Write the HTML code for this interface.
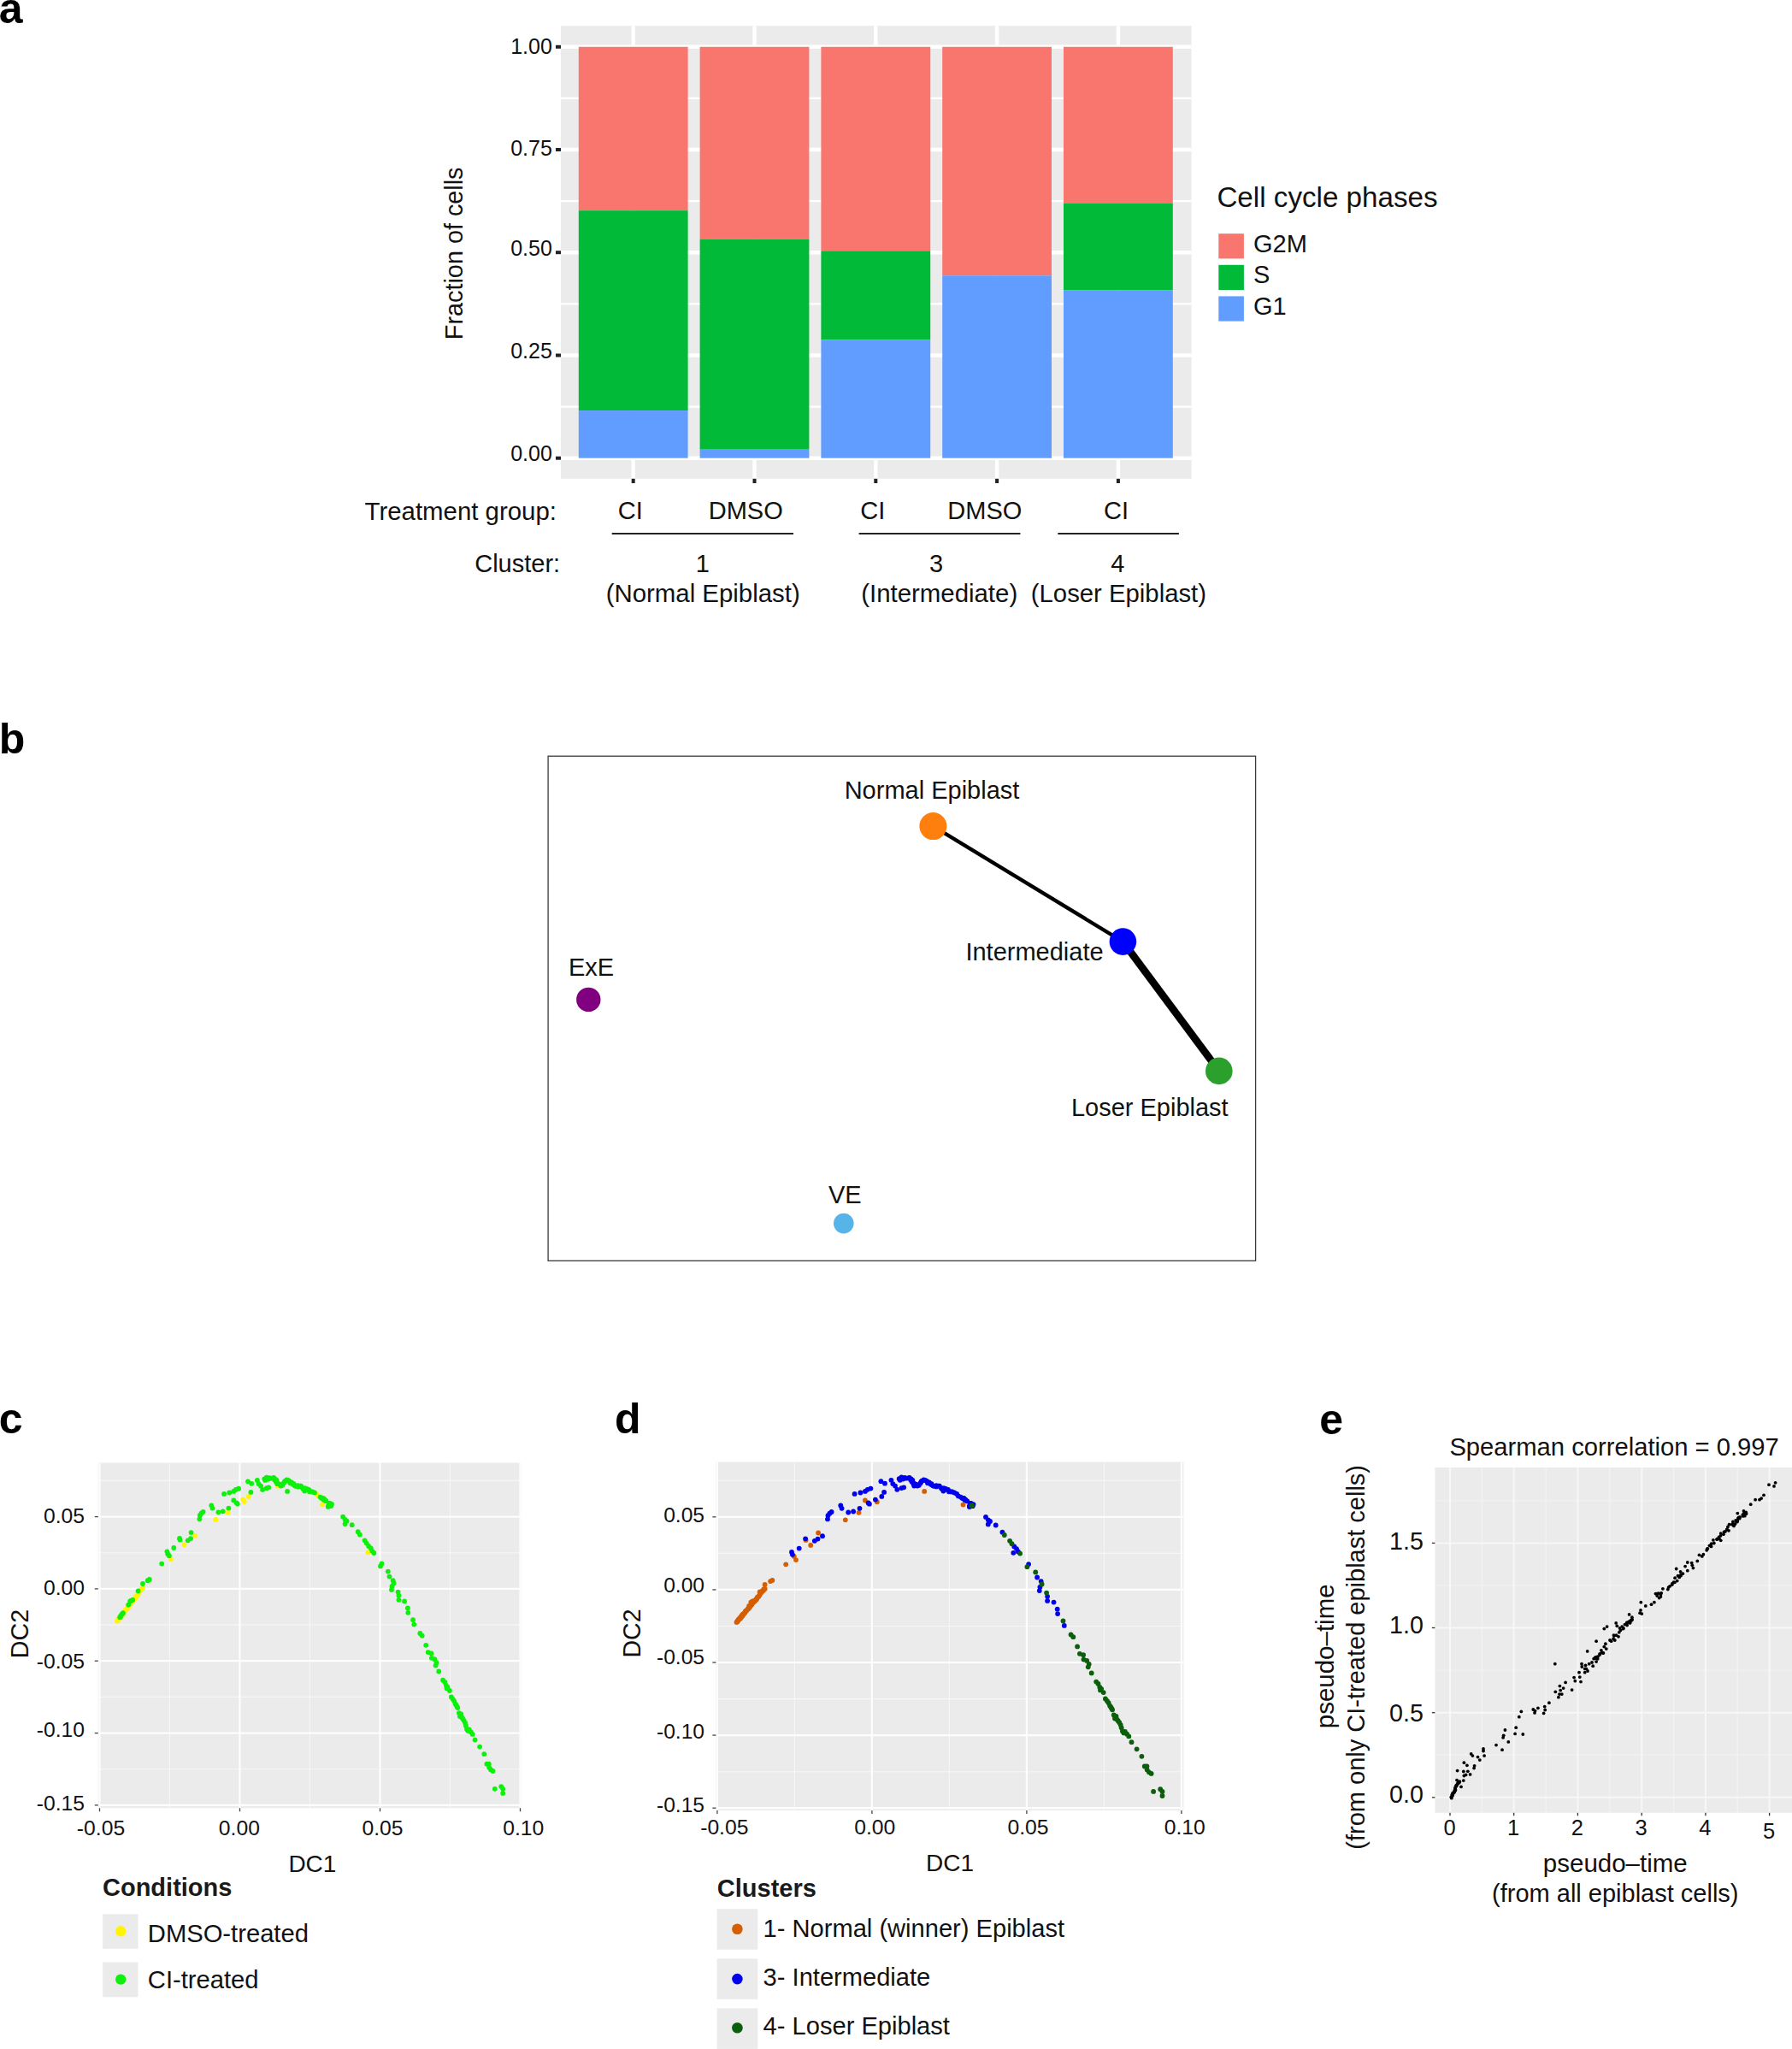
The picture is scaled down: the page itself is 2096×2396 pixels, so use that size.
<!DOCTYPE html>
<html lang="en">
<head>
<meta charset="utf-8">
<title>Figure</title>
<style>
html,body{margin:0;padding:0;background:#fff;}
body{width:2096px;height:2396px;overflow:hidden;}
svg{display:block;font-family:"Liberation Sans", sans-serif;}
</style>
</head>
<body>
<svg width="2096" height="2396" viewBox="0 0 2096 2396">
<rect width="2096" height="2396" fill="#fff"/>
<text x="-1.3" y="26.8" font-size="50" text-anchor="start" font-weight="bold" fill="#000">a</text>
<text x="-1.2" y="880.8" font-size="50" text-anchor="start" font-weight="bold" fill="#000">b</text>
<text x="-1.3" y="1676.4" font-size="50" text-anchor="start" font-weight="bold" fill="#000">c</text>
<text x="719.0" y="1675.8" font-size="50" text-anchor="start" font-weight="bold" fill="#000">d</text>
<text x="1543.2" y="1676.8" font-size="50" text-anchor="start" font-weight="bold" fill="#000">e</text>
<rect x="656.0" y="30.2" width="737.6" height="529.6" fill="#EBEBEB"/>
<line x1="656.0" y1="475.6" x2="1393.6" y2="475.6" stroke="#fff" stroke-width="2.2"/>
<line x1="656.0" y1="355.4" x2="1393.6" y2="355.4" stroke="#fff" stroke-width="2.2"/>
<line x1="656.0" y1="235.1" x2="1393.6" y2="235.1" stroke="#fff" stroke-width="2.2"/>
<line x1="656.0" y1="114.9" x2="1393.6" y2="114.9" stroke="#fff" stroke-width="2.2"/>
<line x1="656.0" y1="535.7" x2="1393.6" y2="535.7" stroke="#fff" stroke-width="4.4"/>
<line x1="656.0" y1="415.5" x2="1393.6" y2="415.5" stroke="#fff" stroke-width="4.4"/>
<line x1="656.0" y1="295.2" x2="1393.6" y2="295.2" stroke="#fff" stroke-width="4.4"/>
<line x1="656.0" y1="175.0" x2="1393.6" y2="175.0" stroke="#fff" stroke-width="4.4"/>
<line x1="656.0" y1="54.8" x2="1393.6" y2="54.8" stroke="#fff" stroke-width="4.4"/>
<line x1="740.7" y1="30.2" x2="740.7" y2="559.8" stroke="#fff" stroke-width="4.4"/>
<line x1="882.5" y1="30.2" x2="882.5" y2="559.8" stroke="#fff" stroke-width="4.4"/>
<line x1="1024.3" y1="30.2" x2="1024.3" y2="559.8" stroke="#fff" stroke-width="4.4"/>
<line x1="1166.1" y1="30.2" x2="1166.1" y2="559.8" stroke="#fff" stroke-width="4.4"/>
<line x1="1307.9" y1="30.2" x2="1307.9" y2="559.8" stroke="#fff" stroke-width="4.4"/>
<rect x="676.8" y="54.8" width="127.8" height="191.4" fill="#F8766D"/>
<rect x="676.8" y="246.2" width="127.8" height="233.9" fill="#00BA38"/>
<rect x="676.8" y="480.1" width="127.8" height="55.6" fill="#619CFF"/>
<rect x="818.6" y="54.8" width="127.8" height="225.1" fill="#F8766D"/>
<rect x="818.6" y="279.9" width="127.8" height="245.2" fill="#00BA38"/>
<rect x="818.6" y="525.0" width="127.8" height="10.7" fill="#619CFF"/>
<rect x="960.4" y="54.8" width="127.8" height="238.5" fill="#F8766D"/>
<rect x="960.4" y="293.3" width="127.8" height="104.1" fill="#00BA38"/>
<rect x="960.4" y="397.4" width="127.8" height="138.3" fill="#619CFF"/>
<rect x="1102.2" y="54.8" width="127.8" height="267.5" fill="#F8766D"/>
<rect x="1102.2" y="322.3" width="127.8" height="213.4" fill="#619CFF"/>
<rect x="1244.0" y="54.8" width="127.8" height="183.2" fill="#F8766D"/>
<rect x="1244.0" y="238.0" width="127.8" height="101.5" fill="#00BA38"/>
<rect x="1244.0" y="339.5" width="127.8" height="196.2" fill="#619CFF"/>
<rect x="650.0" y="533.7" width="6.0" height="4.0" fill="#222"/>
<text x="645.8" y="539.4" font-size="25" text-anchor="end" fill="#111">0.00</text>
<rect x="650.0" y="413.5" width="6.0" height="4.0" fill="#222"/>
<text x="645.8" y="419.2" font-size="25" text-anchor="end" fill="#111">0.25</text>
<rect x="650.0" y="293.2" width="6.0" height="4.0" fill="#222"/>
<text x="645.8" y="298.9" font-size="25" text-anchor="end" fill="#111">0.50</text>
<rect x="650.0" y="173.0" width="6.0" height="4.0" fill="#222"/>
<text x="645.8" y="181.9" font-size="25" text-anchor="end" fill="#111">0.75</text>
<rect x="650.0" y="52.8" width="6.0" height="4.0" fill="#222"/>
<text x="645.8" y="62.6" font-size="25" text-anchor="end" fill="#111">1.00</text>
<rect x="738.7" y="559.8" width="4.0" height="5.2" fill="#222"/>
<rect x="880.5" y="559.8" width="4.0" height="5.2" fill="#222"/>
<rect x="1022.3" y="559.8" width="4.0" height="5.2" fill="#222"/>
<rect x="1164.1" y="559.8" width="4.0" height="5.2" fill="#222"/>
<rect x="1305.9" y="559.8" width="4.0" height="5.2" fill="#222"/>
<text x="540.8" y="296.3" font-size="28.8" text-anchor="middle" fill="#111" transform="rotate(-90 540.8 296.3)">Fraction of cells</text>
<text x="426.6" y="607.5" font-size="29.4" text-anchor="start" fill="#111">Treatment group:</text>
<text x="737.2" y="607.3" font-size="29" text-anchor="middle" fill="#111">CI</text>
<text x="872.2" y="607.3" font-size="29" text-anchor="middle" fill="#111">DMSO</text>
<text x="1020.8" y="607.3" font-size="29" text-anchor="middle" fill="#111">CI</text>
<text x="1151.8" y="607.3" font-size="29" text-anchor="middle" fill="#111">DMSO</text>
<text x="1305.6" y="607.3" font-size="29" text-anchor="middle" fill="#111">CI</text>
<line x1="715.7" y1="624.0" x2="928.0" y2="624.0" stroke="#222" stroke-width="2.2"/>
<line x1="1004.6" y1="624.0" x2="1193.4" y2="624.0" stroke="#222" stroke-width="2.2"/>
<line x1="1237.3" y1="624.0" x2="1378.9" y2="624.0" stroke="#222" stroke-width="2.2"/>
<text x="555.2" y="668.6" font-size="29" text-anchor="start" fill="#111">Cluster:</text>
<text x="821.8" y="668.6" font-size="29" text-anchor="middle" fill="#111">1</text>
<text x="1095.0" y="668.6" font-size="29" text-anchor="middle" fill="#111">3</text>
<text x="1307.3" y="668.6" font-size="29" text-anchor="middle" fill="#111">4</text>
<text x="822.2" y="704.0" font-size="29.4" text-anchor="middle" fill="#111">(Normal Epiblast)</text>
<text x="1098.7" y="704.0" font-size="29.4" text-anchor="middle" fill="#111">(Intermediate)</text>
<text x="1308.4" y="704.0" font-size="29.3" text-anchor="middle" fill="#111">(Loser Epiblast)</text>
<text x="1423.4" y="242.4" font-size="33.2" text-anchor="start" fill="#111">Cell cycle phases</text>
<rect x="1425.3" y="273.2" width="29.6" height="29.2" fill="#F8766D"/>
<text x="1466.0" y="294.8" font-size="29" text-anchor="start" fill="#111">G2M</text>
<rect x="1425.3" y="309.8" width="29.6" height="29.2" fill="#00BA38"/>
<text x="1466.0" y="331.4" font-size="29" text-anchor="start" fill="#111">S</text>
<rect x="1425.3" y="346.4" width="29.6" height="29.2" fill="#619CFF"/>
<text x="1466.0" y="368.0" font-size="29" text-anchor="start" fill="#111">G1</text>
<rect x="641.1" y="884.2" width="827.5" height="590.1" fill="#fff" stroke="#3a3a3a" stroke-width="1.3"/>
<line x1="1091.4" y1="966.1" x2="1313.4" y2="1101.1" stroke="#000" stroke-width="4.4"/>
<line x1="1313.4" y1="1101.1" x2="1425.8" y2="1252.4" stroke="#000" stroke-width="8.6"/>
<circle cx="1091.4" cy="966.1" r="16.0" fill="#FF7F0E"/>
<circle cx="1313.4" cy="1101.1" r="15.8" fill="#0000FF"/>
<circle cx="1425.8" cy="1252.4" r="15.8" fill="#2CA02C"/>
<circle cx="688.3" cy="1168.9" r="14.2" fill="#800080"/>
<circle cx="986.8" cy="1430.6" r="11.8" fill="#56B4E9"/>
<text x="1090.0" y="933.7" font-size="29" text-anchor="middle" fill="#111">Normal Epiblast</text>
<text x="1210.0" y="1122.7" font-size="29" text-anchor="middle" fill="#111">Intermediate</text>
<text x="691.5" y="1141.4" font-size="29" text-anchor="middle" fill="#111">ExE</text>
<text x="1344.8" y="1304.9" font-size="29" text-anchor="middle" fill="#111">Loser Epiblast</text>
<text x="988.3" y="1406.6" font-size="29" text-anchor="middle" fill="#111">VE</text>
<rect x="114.8" y="1710.5" width="494.6" height="403.8" fill="#EBEBEB"/>
<line x1="198.5" y1="1710.5" x2="198.5" y2="2114.3" stroke="#F6F6F6" stroke-width="1.1"/>
<line x1="362.5" y1="1710.5" x2="362.5" y2="2114.3" stroke="#F6F6F6" stroke-width="1.1"/>
<line x1="526.5" y1="1710.5" x2="526.5" y2="2114.3" stroke="#F6F6F6" stroke-width="1.1"/>
<line x1="114.8" y1="2068.8" x2="609.4" y2="2068.8" stroke="#F6F6F6" stroke-width="1.1"/>
<line x1="114.8" y1="1984.4" x2="609.4" y2="1984.4" stroke="#F6F6F6" stroke-width="1.1"/>
<line x1="114.8" y1="1900.1" x2="609.4" y2="1900.1" stroke="#F6F6F6" stroke-width="1.1"/>
<line x1="114.8" y1="1815.7" x2="609.4" y2="1815.7" stroke="#F6F6F6" stroke-width="1.1"/>
<line x1="114.8" y1="1731.4" x2="609.4" y2="1731.4" stroke="#F6F6F6" stroke-width="1.1"/>
<line x1="116.5" y1="1710.5" x2="116.5" y2="2114.3" stroke="#FDFDFD" stroke-width="2.2"/>
<line x1="280.5" y1="1710.5" x2="280.5" y2="2114.3" stroke="#FDFDFD" stroke-width="2.2"/>
<line x1="444.5" y1="1710.5" x2="444.5" y2="2114.3" stroke="#FDFDFD" stroke-width="2.2"/>
<line x1="608.5" y1="1710.5" x2="608.5" y2="2114.3" stroke="#FDFDFD" stroke-width="2.2"/>
<line x1="114.8" y1="2110.9" x2="609.4" y2="2110.9" stroke="#FDFDFD" stroke-width="2.2"/>
<line x1="114.8" y1="2026.6" x2="609.4" y2="2026.6" stroke="#FDFDFD" stroke-width="2.2"/>
<line x1="114.8" y1="1942.2" x2="609.4" y2="1942.2" stroke="#FDFDFD" stroke-width="2.2"/>
<line x1="114.8" y1="1857.9" x2="609.4" y2="1857.9" stroke="#FDFDFD" stroke-width="2.2"/>
<line x1="114.8" y1="1773.6" x2="609.4" y2="1773.6" stroke="#FDFDFD" stroke-width="2.2"/>
<g fill="#FFF500">
<circle cx="199.9" cy="1823.4" r="2.9"/>
<circle cx="215.5" cy="1806.3" r="2.9"/>
<circle cx="228.1" cy="1795.8" r="2.9"/>
<circle cx="252.4" cy="1777.0" r="2.9"/>
<circle cx="266.6" cy="1768.6" r="2.9"/>
<circle cx="284.2" cy="1753.6" r="2.9"/>
<circle cx="285.8" cy="1756.1" r="2.9"/>
<circle cx="290.9" cy="1749.9" r="2.9"/>
<circle cx="325.2" cy="1737.7" r="2.9"/>
<circle cx="370.4" cy="1746.9" r="2.9"/>
<circle cx="372.1" cy="1749.4" r="2.9"/>
<circle cx="377.1" cy="1759.4" r="2.9"/>
<circle cx="430.4" cy="1815.2" r="2.9"/>
<circle cx="137.0" cy="1895.5" r="2.9"/>
<circle cx="137.7" cy="1895.0" r="2.9"/>
<circle cx="138.0" cy="1894.7" r="2.9"/>
<circle cx="138.0" cy="1894.1" r="2.9"/>
<circle cx="138.5" cy="1893.4" r="2.9"/>
<circle cx="139.1" cy="1892.3" r="2.9"/>
<circle cx="140.0" cy="1892.3" r="2.9"/>
<circle cx="140.3" cy="1891.0" r="2.9"/>
<circle cx="141.4" cy="1890.9" r="2.9"/>
<circle cx="141.9" cy="1889.6" r="2.9"/>
<circle cx="142.9" cy="1888.4" r="2.9"/>
<circle cx="143.4" cy="1887.9" r="2.9"/>
<circle cx="143.3" cy="1886.9" r="2.9"/>
<circle cx="144.1" cy="1886.8" r="2.9"/>
<circle cx="144.6" cy="1885.7" r="2.9"/>
<circle cx="145.7" cy="1884.6" r="2.9"/>
<circle cx="146.3" cy="1883.5" r="2.9"/>
<circle cx="146.5" cy="1882.7" r="2.9"/>
<circle cx="147.7" cy="1882.1" r="2.9"/>
<circle cx="148.0" cy="1881.4" r="2.9"/>
<circle cx="148.8" cy="1880.2" r="2.9"/>
<circle cx="149.9" cy="1879.7" r="2.9"/>
<circle cx="150.0" cy="1878.7" r="2.9"/>
<circle cx="151.0" cy="1878.1" r="2.9"/>
<circle cx="151.9" cy="1876.6" r="2.9"/>
<circle cx="152.8" cy="1875.5" r="2.9"/>
<circle cx="152.9" cy="1875.2" r="2.9"/>
<circle cx="153.4" cy="1874.0" r="2.9"/>
<circle cx="154.0" cy="1873.3" r="2.9"/>
<circle cx="155.4" cy="1872.2" r="2.9"/>
<circle cx="156.2" cy="1871.0" r="2.9"/>
<circle cx="156.8" cy="1870.3" r="2.9"/>
<circle cx="157.4" cy="1869.3" r="2.9"/>
<circle cx="158.4" cy="1868.8" r="2.9"/>
<circle cx="158.7" cy="1867.5" r="2.9"/>
<circle cx="159.0" cy="1866.6" r="2.9"/>
<circle cx="160.4" cy="1865.9" r="2.9"/>
<circle cx="161.3" cy="1864.3" r="2.9"/>
<circle cx="161.6" cy="1863.7" r="2.9"/>
<circle cx="162.0" cy="1862.5" r="2.9"/>
<circle cx="162.9" cy="1861.1" r="2.9"/>
<circle cx="163.5" cy="1860.8" r="2.9"/>
<circle cx="164.3" cy="1859.3" r="2.9"/>
<circle cx="165.3" cy="1858.9" r="2.9"/>
<circle cx="165.8" cy="1857.5" r="2.9"/>
<circle cx="167.0" cy="1856.9" r="2.9"/>
</g>
<g fill="#0CF00C">
<circle cx="167.0" cy="1852.0" r="2.9"/>
<circle cx="172.8" cy="1848.2" r="2.9"/>
<circle cx="174.8" cy="1847.0" r="2.9"/>
<circle cx="189.2" cy="1828.6" r="2.9"/>
<circle cx="195.4" cy="1814.3" r="2.9"/>
<circle cx="196.3" cy="1817.2" r="2.9"/>
<circle cx="197.9" cy="1819.2" r="2.9"/>
<circle cx="203.3" cy="1810.0" r="2.9"/>
<circle cx="210.0" cy="1798.8" r="2.9"/>
<circle cx="210.5" cy="1800.5" r="2.9"/>
<circle cx="219.7" cy="1801.3" r="2.9"/>
<circle cx="223.1" cy="1799.1" r="2.9"/>
<circle cx="223.6" cy="1792.1" r="2.9"/>
<circle cx="233.4" cy="1776.2" r="2.9"/>
<circle cx="233.9" cy="1772.0" r="2.9"/>
<circle cx="235.6" cy="1769.5" r="2.9"/>
<circle cx="237.6" cy="1767.8" r="2.9"/>
<circle cx="247.3" cy="1760.3" r="2.9"/>
<circle cx="248.5" cy="1763.6" r="2.9"/>
<circle cx="255.4" cy="1768.3" r="2.9"/>
<circle cx="260.7" cy="1767.3" r="2.9"/>
<circle cx="267.4" cy="1763.6" r="2.9"/>
<circle cx="262.1" cy="1746.9" r="2.9"/>
<circle cx="268.3" cy="1745.5" r="2.9"/>
<circle cx="273.3" cy="1743.9" r="2.9"/>
<circle cx="275.8" cy="1741.9" r="2.9"/>
<circle cx="279.1" cy="1740.7" r="2.9"/>
<circle cx="273.3" cy="1754.4" r="2.9"/>
<circle cx="276.6" cy="1757.3" r="2.9"/>
<circle cx="277.8" cy="1758.6" r="2.9"/>
<circle cx="293.4" cy="1744.9" r="2.9"/>
<circle cx="290.0" cy="1732.3" r="2.9"/>
<circle cx="294.2" cy="1734.8" r="2.9"/>
<circle cx="300.9" cy="1731.0" r="2.9"/>
<circle cx="302.6" cy="1735.2" r="2.9"/>
<circle cx="305.1" cy="1737.7" r="2.9"/>
<circle cx="307.1" cy="1741.9" r="2.9"/>
<circle cx="311.8" cy="1740.2" r="2.9"/>
<circle cx="314.3" cy="1739.3" r="2.9"/>
<circle cx="309.3" cy="1729.3" r="2.9"/>
<circle cx="311.8" cy="1727.6" r="2.9"/>
<circle cx="315.1" cy="1728.1" r="2.9"/>
<circle cx="319.3" cy="1728.5" r="2.9"/>
<circle cx="321.3" cy="1730.5" r="2.9"/>
<circle cx="322.7" cy="1732.6" r="2.9"/>
<circle cx="324.3" cy="1735.2" r="2.9"/>
<circle cx="327.7" cy="1736.0" r="2.9"/>
<circle cx="330.2" cy="1736.8" r="2.9"/>
<circle cx="332.7" cy="1732.6" r="2.9"/>
<circle cx="336.1" cy="1731.0" r="2.9"/>
<circle cx="338.6" cy="1732.1" r="2.9"/>
<circle cx="336.1" cy="1743.9" r="2.9"/>
<circle cx="341.1" cy="1733.5" r="2.9"/>
<circle cx="343.6" cy="1735.2" r="2.9"/>
<circle cx="346.1" cy="1737.7" r="2.9"/>
<circle cx="348.6" cy="1737.2" r="2.9"/>
<circle cx="351.1" cy="1737.7" r="2.9"/>
<circle cx="353.6" cy="1739.8" r="2.9"/>
<circle cx="356.2" cy="1743.5" r="2.9"/>
<circle cx="358.7" cy="1741.0" r="2.9"/>
<circle cx="361.2" cy="1741.9" r="2.9"/>
<circle cx="364.5" cy="1744.4" r="2.9"/>
<circle cx="367.9" cy="1745.5" r="2.9"/>
<circle cx="374.6" cy="1750.6" r="2.9"/>
<circle cx="376.2" cy="1751.9" r="2.9"/>
<circle cx="378.8" cy="1753.9" r="2.9"/>
<circle cx="381.3" cy="1755.2" r="2.9"/>
<circle cx="384.6" cy="1757.8" r="2.9"/>
<circle cx="386.3" cy="1760.3" r="2.9"/>
<circle cx="383.8" cy="1761.1" r="2.9"/>
<circle cx="388.0" cy="1758.9" r="2.9"/>
<circle cx="401.1" cy="1773.7" r="2.9"/>
<circle cx="403.6" cy="1777.0" r="2.9"/>
<circle cx="405.6" cy="1778.7" r="2.9"/>
<circle cx="403.6" cy="1782.0" r="2.9"/>
<circle cx="411.7" cy="1783.2" r="2.9"/>
<circle cx="418.7" cy="1791.2" r="2.9"/>
<circle cx="420.9" cy="1794.6" r="2.9"/>
<circle cx="426.6" cy="1801.3" r="2.9"/>
<circle cx="428.7" cy="1804.6" r="2.9"/>
<circle cx="431.2" cy="1808.0" r="2.9"/>
<circle cx="433.8" cy="1810.5" r="2.9"/>
<circle cx="435.4" cy="1813.8" r="2.9"/>
<circle cx="437.4" cy="1816.0" r="2.9"/>
<circle cx="446.5" cy="1828.4" r="2.9"/>
<circle cx="445.0" cy="1831.4" r="2.9"/>
<circle cx="453.8" cy="1837.6" r="2.9"/>
<circle cx="455.5" cy="1843.6" r="2.9"/>
<circle cx="459.7" cy="1848.2" r="2.9"/>
<circle cx="460.5" cy="1851.5" r="2.9"/>
<circle cx="458.5" cy="1854.9" r="2.9"/>
<circle cx="458.0" cy="1859.0" r="2.9"/>
<circle cx="465.6" cy="1861.6" r="2.9"/>
<circle cx="466.4" cy="1865.7" r="2.9"/>
<circle cx="466.4" cy="1870.8" r="2.9"/>
<circle cx="473.1" cy="1872.4" r="2.9"/>
<circle cx="476.9" cy="1880.5" r="2.9"/>
<circle cx="477.3" cy="1885.8" r="2.9"/>
<circle cx="483.1" cy="1894.2" r="2.9"/>
<circle cx="484.3" cy="1899.6" r="2.9"/>
<circle cx="491.3" cy="1910.0" r="2.9"/>
<circle cx="493.7" cy="1912.7" r="2.9"/>
<circle cx="498.2" cy="1923.8" r="2.9"/>
<circle cx="500.7" cy="1932.1" r="2.9"/>
<circle cx="504.5" cy="1933.5" r="2.9"/>
<circle cx="504.9" cy="1938.8" r="2.9"/>
<circle cx="508.2" cy="1940.2" r="2.9"/>
<circle cx="510.5" cy="1944.2" r="2.9"/>
<circle cx="509.6" cy="1947.5" r="2.9"/>
<circle cx="513.2" cy="1954.5" r="2.9"/>
<circle cx="518.1" cy="1964.7" r="2.9"/>
<circle cx="520.3" cy="1967.0" r="2.9"/>
<circle cx="521.9" cy="1971.0" r="2.9"/>
<circle cx="522.5" cy="1974.3" r="2.9"/>
<circle cx="525.9" cy="1977.0" r="2.9"/>
<circle cx="527.9" cy="1984.4" r="2.9"/>
<circle cx="531.2" cy="1989.1" r="2.9"/>
<circle cx="532.6" cy="1992.4" r="2.9"/>
<circle cx="534.6" cy="1995.8" r="2.9"/>
<circle cx="535.3" cy="1997.1" r="2.9"/>
<circle cx="539.3" cy="2004.5" r="2.9"/>
<circle cx="537.9" cy="2007.1" r="2.9"/>
<circle cx="541.3" cy="2009.8" r="2.9"/>
<circle cx="542.6" cy="2011.8" r="2.9"/>
<circle cx="544.0" cy="2014.5" r="2.9"/>
<circle cx="546.0" cy="2021.9" r="2.9"/>
<circle cx="548.7" cy="2022.5" r="2.9"/>
<circle cx="550.7" cy="2025.2" r="2.9"/>
<circle cx="552.7" cy="2027.9" r="2.9"/>
<circle cx="555.6" cy="2034.6" r="2.9"/>
<circle cx="561.1" cy="2042.6" r="2.9"/>
<circle cx="566.3" cy="2051.1" r="2.9"/>
<circle cx="569.4" cy="2062.7" r="2.9"/>
<circle cx="571.8" cy="2062.7" r="2.9"/>
<circle cx="572.1" cy="2066.7" r="2.9"/>
<circle cx="574.1" cy="2069.4" r="2.9"/>
<circle cx="576.5" cy="2071.0" r="2.9"/>
<circle cx="578.8" cy="2091.8" r="2.9"/>
<circle cx="586.2" cy="2089.1" r="2.9"/>
<circle cx="588.2" cy="2091.8" r="2.9"/>
<circle cx="588.2" cy="2096.9" r="2.9"/>
<circle cx="523.5" cy="1973.0" r="2.9"/>
<circle cx="529.6" cy="1986.8" r="2.9"/>
<circle cx="533.7" cy="1994.0" r="2.9"/>
<circle cx="536.9" cy="2003.1" r="2.9"/>
<circle cx="540.2" cy="2008.2" r="2.9"/>
<circle cx="544.9" cy="2017.9" r="2.9"/>
<circle cx="547.3" cy="2023.9" r="2.9"/>
<circle cx="310.2" cy="1730.9" r="2.9"/>
<circle cx="313.5" cy="1729.7" r="2.9"/>
<circle cx="316.9" cy="1728.8" r="2.9"/>
<circle cx="320.2" cy="1728.0" r="2.9"/>
<circle cx="323.6" cy="1730.9" r="2.9"/>
<circle cx="324.4" cy="1734.3" r="2.9"/>
<circle cx="328.6" cy="1737.6" r="2.9"/>
<circle cx="331.9" cy="1734.3" r="2.9"/>
<circle cx="333.6" cy="1731.8" r="2.9"/>
<circle cx="337.0" cy="1730.9" r="2.9"/>
<circle cx="339.5" cy="1734.3" r="2.9"/>
<circle cx="342.0" cy="1735.1" r="2.9"/>
<circle cx="345.3" cy="1737.6" r="2.9"/>
<circle cx="348.7" cy="1738.5" r="2.9"/>
<circle cx="352.0" cy="1737.6" r="2.9"/>
<circle cx="354.5" cy="1741.0" r="2.9"/>
<circle cx="358.7" cy="1741.8" r="2.9"/>
<circle cx="362.1" cy="1744.3" r="2.9"/>
<circle cx="365.4" cy="1744.3" r="2.9"/>
<circle cx="378.0" cy="1751.9" r="2.9"/>
<circle cx="381.3" cy="1755.2" r="2.9"/>
<circle cx="385.5" cy="1757.7" r="2.9"/>
<circle cx="387.2" cy="1761.1" r="2.9"/>
<circle cx="383.8" cy="1761.9" r="2.9"/>
<circle cx="321.9" cy="1729.7" r="2.9"/>
<circle cx="326.5" cy="1735.5" r="2.9"/>
<circle cx="335.3" cy="1730.5" r="2.9"/>
<circle cx="343.7" cy="1736.4" r="2.9"/>
<circle cx="356.6" cy="1740.1" r="2.9"/>
<circle cx="379.7" cy="1753.5" r="2.9"/>
<circle cx="141.0" cy="1890.0" r="2.9"/>
<circle cx="142.7" cy="1887.5" r="2.9"/>
<circle cx="143.9" cy="1886.2" r="2.9"/>
<circle cx="141.9" cy="1888.8" r="2.9"/>
<circle cx="150.2" cy="1876.6" r="2.9"/>
<circle cx="153.6" cy="1871.6" r="2.9"/>
<circle cx="155.2" cy="1870.8" r="2.9"/>
<circle cx="152.2" cy="1872.4" r="2.9"/>
<circle cx="161.6" cy="1860.4" r="2.9"/>
<circle cx="140.2" cy="1891.2" r="2.9"/>
</g>
<line x1="110.8" y1="1773.6" x2="114.8" y2="1773.6" stroke="#444" stroke-width="1.3"/>
<text x="99.0" y="1781.0" font-size="24.7" text-anchor="end" fill="#111">0.05</text>
<line x1="110.8" y1="1857.9" x2="114.8" y2="1857.9" stroke="#444" stroke-width="1.3"/>
<text x="99.0" y="1864.9" font-size="24.7" text-anchor="end" fill="#111">0.00</text>
<line x1="110.8" y1="1942.2" x2="114.8" y2="1942.2" stroke="#444" stroke-width="1.3"/>
<text x="99.0" y="1950.7" font-size="24.7" text-anchor="end" fill="#111">-0.05</text>
<line x1="110.8" y1="2026.6" x2="114.8" y2="2026.6" stroke="#444" stroke-width="1.3"/>
<text x="99.0" y="2031.4" font-size="24.7" text-anchor="end" fill="#111">-0.10</text>
<line x1="110.8" y1="2110.9" x2="114.8" y2="2110.9" stroke="#444" stroke-width="1.3"/>
<text x="99.0" y="2117.1" font-size="24.7" text-anchor="end" fill="#111">-0.15</text>
<line x1="116.5" y1="2114.3" x2="116.5" y2="2118.3" stroke="#444" stroke-width="1.3"/>
<text x="118.0" y="2145.6" font-size="24.7" text-anchor="middle" fill="#111">-0.05</text>
<line x1="280.5" y1="2114.3" x2="280.5" y2="2118.3" stroke="#444" stroke-width="1.3"/>
<text x="279.9" y="2145.6" font-size="24.7" text-anchor="middle" fill="#111">0.00</text>
<line x1="444.5" y1="2114.3" x2="444.5" y2="2118.3" stroke="#444" stroke-width="1.3"/>
<text x="447.5" y="2145.6" font-size="24.7" text-anchor="middle" fill="#111">0.05</text>
<line x1="608.5" y1="2114.3" x2="608.5" y2="2118.3" stroke="#444" stroke-width="1.3"/>
<text x="612.3" y="2145.6" font-size="24.7" text-anchor="middle" fill="#111">0.10</text>
<text x="365.4" y="2188.8" font-size="28" text-anchor="middle" fill="#111">DC1</text>
<text x="32.7" y="1910.5" font-size="28.7" text-anchor="middle" fill="#111" transform="rotate(-90 32.7 1910.5)">DC2</text>
<text x="120.0" y="2217.2" font-size="29" text-anchor="start" font-weight="bold" fill="#1a1a1a">Conditions</text>
<rect x="120.1" y="2238.3" width="41.4" height="40.5" fill="#EBEBEB"/>
<rect x="120.1" y="2294.5" width="41.4" height="40.8" fill="#EBEBEB"/>
<circle cx="141.2" cy="2258.3" r="6.2" fill="#FFF500"/>
<circle cx="141.2" cy="2314.6" r="6.2" fill="#0CF00C"/>
<text x="172.8" y="2271.0" font-size="29.2" text-anchor="start" fill="#111">DMSO-treated</text>
<text x="172.8" y="2325.0" font-size="29.2" text-anchor="start" fill="#111">CI-treated</text>
<rect x="837.4" y="1709.5" width="547.0" height="407.5" fill="#EBEBEB"/>
<line x1="929.4" y1="1709.5" x2="929.4" y2="2117.0" stroke="#F6F6F6" stroke-width="1.1"/>
<line x1="1110.4" y1="1709.5" x2="1110.4" y2="2117.0" stroke="#F6F6F6" stroke-width="1.1"/>
<line x1="1291.4" y1="1709.5" x2="1291.4" y2="2117.0" stroke="#F6F6F6" stroke-width="1.1"/>
<line x1="837.4" y1="2071.7" x2="1384.4" y2="2071.7" stroke="#F6F6F6" stroke-width="1.1"/>
<line x1="837.4" y1="1986.6" x2="1384.4" y2="1986.6" stroke="#F6F6F6" stroke-width="1.1"/>
<line x1="837.4" y1="1901.5" x2="1384.4" y2="1901.5" stroke="#F6F6F6" stroke-width="1.1"/>
<line x1="837.4" y1="1816.4" x2="1384.4" y2="1816.4" stroke="#F6F6F6" stroke-width="1.1"/>
<line x1="837.4" y1="1731.2" x2="1384.4" y2="1731.2" stroke="#F6F6F6" stroke-width="1.1"/>
<line x1="838.9" y1="1709.5" x2="838.9" y2="2117.0" stroke="#FDFDFD" stroke-width="2.2"/>
<line x1="1019.9" y1="1709.5" x2="1019.9" y2="2117.0" stroke="#FDFDFD" stroke-width="2.2"/>
<line x1="1200.9" y1="1709.5" x2="1200.9" y2="2117.0" stroke="#FDFDFD" stroke-width="2.2"/>
<line x1="1381.9" y1="1709.5" x2="1381.9" y2="2117.0" stroke="#FDFDFD" stroke-width="2.2"/>
<line x1="837.4" y1="2114.2" x2="1384.4" y2="2114.2" stroke="#FDFDFD" stroke-width="2.2"/>
<line x1="837.4" y1="2029.1" x2="1384.4" y2="2029.1" stroke="#FDFDFD" stroke-width="2.2"/>
<line x1="837.4" y1="1944.0" x2="1384.4" y2="1944.0" stroke="#FDFDFD" stroke-width="2.2"/>
<line x1="837.4" y1="1858.9" x2="1384.4" y2="1858.9" stroke="#FDFDFD" stroke-width="2.2"/>
<line x1="837.4" y1="1773.8" x2="1384.4" y2="1773.8" stroke="#FDFDFD" stroke-width="2.2"/>
<g fill="#D55E00">
<circle cx="894.6" cy="1853.0" r="2.9"/>
<circle cx="901.1" cy="1849.1" r="2.9"/>
<circle cx="903.3" cy="1847.9" r="2.9"/>
<circle cx="919.2" cy="1829.3" r="2.9"/>
<circle cx="928.8" cy="1819.9" r="2.9"/>
<circle cx="931.0" cy="1824.1" r="2.9"/>
<circle cx="942.6" cy="1800.9" r="2.9"/>
<circle cx="948.2" cy="1806.9" r="2.9"/>
<circle cx="957.1" cy="1792.5" r="2.9"/>
<circle cx="988.8" cy="1777.3" r="2.9"/>
<circle cx="1004.5" cy="1768.8" r="2.9"/>
<circle cx="1011.9" cy="1754.5" r="2.9"/>
<circle cx="1025.8" cy="1756.2" r="2.9"/>
<circle cx="1081.2" cy="1743.9" r="2.9"/>
<circle cx="1126.5" cy="1759.6" r="2.9"/>
<circle cx="861.5" cy="1896.9" r="2.9"/>
<circle cx="862.3" cy="1896.3" r="2.9"/>
<circle cx="862.7" cy="1896.0" r="2.9"/>
<circle cx="862.7" cy="1895.5" r="2.9"/>
<circle cx="863.2" cy="1894.7" r="2.9"/>
<circle cx="863.9" cy="1893.6" r="2.9"/>
<circle cx="864.9" cy="1893.6" r="2.9"/>
<circle cx="865.2" cy="1892.3" r="2.9"/>
<circle cx="866.4" cy="1892.2" r="2.9"/>
<circle cx="867.0" cy="1890.9" r="2.9"/>
<circle cx="868.1" cy="1889.7" r="2.9"/>
<circle cx="868.6" cy="1889.2" r="2.9"/>
<circle cx="868.5" cy="1888.2" r="2.9"/>
<circle cx="869.4" cy="1888.0" r="2.9"/>
<circle cx="869.9" cy="1886.9" r="2.9"/>
<circle cx="871.2" cy="1885.9" r="2.9"/>
<circle cx="871.8" cy="1884.7" r="2.9"/>
<circle cx="872.0" cy="1884.0" r="2.9"/>
<circle cx="873.4" cy="1883.3" r="2.9"/>
<circle cx="873.7" cy="1882.6" r="2.9"/>
<circle cx="874.6" cy="1881.4" r="2.9"/>
<circle cx="875.7" cy="1880.9" r="2.9"/>
<circle cx="875.9" cy="1879.9" r="2.9"/>
<circle cx="876.9" cy="1879.3" r="2.9"/>
<circle cx="877.9" cy="1877.7" r="2.9"/>
<circle cx="879.0" cy="1876.6" r="2.9"/>
<circle cx="879.1" cy="1876.4" r="2.9"/>
<circle cx="879.6" cy="1875.1" r="2.9"/>
<circle cx="880.3" cy="1874.4" r="2.9"/>
<circle cx="881.8" cy="1873.3" r="2.9"/>
<circle cx="882.8" cy="1872.1" r="2.9"/>
<circle cx="883.4" cy="1871.5" r="2.9"/>
<circle cx="884.0" cy="1870.4" r="2.9"/>
<circle cx="885.1" cy="1869.9" r="2.9"/>
<circle cx="885.5" cy="1868.6" r="2.9"/>
<circle cx="885.9" cy="1867.7" r="2.9"/>
<circle cx="887.3" cy="1867.0" r="2.9"/>
<circle cx="888.3" cy="1865.3" r="2.9"/>
<circle cx="888.7" cy="1864.7" r="2.9"/>
<circle cx="889.1" cy="1863.5" r="2.9"/>
<circle cx="890.1" cy="1862.2" r="2.9"/>
<circle cx="890.8" cy="1861.8" r="2.9"/>
<circle cx="891.7" cy="1860.3" r="2.9"/>
<circle cx="892.8" cy="1859.9" r="2.9"/>
<circle cx="893.3" cy="1858.5" r="2.9"/>
<circle cx="894.7" cy="1857.9" r="2.9"/>
<circle cx="866.0" cy="1891.3" r="2.9"/>
<circle cx="867.8" cy="1888.8" r="2.9"/>
<circle cx="869.1" cy="1887.4" r="2.9"/>
<circle cx="866.9" cy="1890.1" r="2.9"/>
<circle cx="876.1" cy="1877.8" r="2.9"/>
<circle cx="879.8" cy="1872.7" r="2.9"/>
<circle cx="881.7" cy="1871.9" r="2.9"/>
<circle cx="878.3" cy="1873.6" r="2.9"/>
<circle cx="888.7" cy="1861.4" r="2.9"/>
<circle cx="865.0" cy="1892.5" r="2.9"/>
</g>
<g fill="#0000EE">
<circle cx="926.0" cy="1815.0" r="2.9"/>
<circle cx="926.9" cy="1817.8" r="2.9"/>
<circle cx="934.7" cy="1810.6" r="2.9"/>
<circle cx="942.1" cy="1799.3" r="2.9"/>
<circle cx="952.8" cy="1801.8" r="2.9"/>
<circle cx="956.5" cy="1799.6" r="2.9"/>
<circle cx="962.0" cy="1796.2" r="2.9"/>
<circle cx="968.0" cy="1776.4" r="2.9"/>
<circle cx="968.5" cy="1772.2" r="2.9"/>
<circle cx="970.4" cy="1769.7" r="2.9"/>
<circle cx="972.6" cy="1768.0" r="2.9"/>
<circle cx="983.3" cy="1760.4" r="2.9"/>
<circle cx="984.6" cy="1763.8" r="2.9"/>
<circle cx="992.2" cy="1768.5" r="2.9"/>
<circle cx="998.1" cy="1767.5" r="2.9"/>
<circle cx="1005.5" cy="1763.8" r="2.9"/>
<circle cx="999.6" cy="1746.9" r="2.9"/>
<circle cx="1006.4" cy="1745.5" r="2.9"/>
<circle cx="1011.9" cy="1743.9" r="2.9"/>
<circle cx="1014.7" cy="1741.8" r="2.9"/>
<circle cx="1018.4" cy="1740.6" r="2.9"/>
<circle cx="1015.6" cy="1757.4" r="2.9"/>
<circle cx="1016.9" cy="1758.7" r="2.9"/>
<circle cx="1023.9" cy="1753.6" r="2.9"/>
<circle cx="1031.3" cy="1749.9" r="2.9"/>
<circle cx="1034.1" cy="1744.9" r="2.9"/>
<circle cx="1030.4" cy="1732.2" r="2.9"/>
<circle cx="1035.0" cy="1734.7" r="2.9"/>
<circle cx="1042.4" cy="1730.8" r="2.9"/>
<circle cx="1044.3" cy="1735.1" r="2.9"/>
<circle cx="1047.0" cy="1737.6" r="2.9"/>
<circle cx="1049.3" cy="1741.8" r="2.9"/>
<circle cx="1054.4" cy="1740.1" r="2.9"/>
<circle cx="1057.2" cy="1739.3" r="2.9"/>
<circle cx="1051.7" cy="1729.2" r="2.9"/>
<circle cx="1054.4" cy="1727.5" r="2.9"/>
<circle cx="1058.1" cy="1728.0" r="2.9"/>
<circle cx="1062.7" cy="1728.3" r="2.9"/>
<circle cx="1065.0" cy="1730.3" r="2.9"/>
<circle cx="1066.4" cy="1732.5" r="2.9"/>
<circle cx="1068.3" cy="1735.1" r="2.9"/>
<circle cx="1069.2" cy="1737.6" r="2.9"/>
<circle cx="1072.0" cy="1735.9" r="2.9"/>
<circle cx="1074.8" cy="1736.8" r="2.9"/>
<circle cx="1077.5" cy="1732.5" r="2.9"/>
<circle cx="1081.2" cy="1730.8" r="2.9"/>
<circle cx="1084.0" cy="1732.0" r="2.9"/>
<circle cx="1086.8" cy="1733.4" r="2.9"/>
<circle cx="1089.5" cy="1735.1" r="2.9"/>
<circle cx="1092.3" cy="1737.6" r="2.9"/>
<circle cx="1095.1" cy="1737.1" r="2.9"/>
<circle cx="1097.9" cy="1737.6" r="2.9"/>
<circle cx="1100.6" cy="1739.8" r="2.9"/>
<circle cx="1103.4" cy="1743.5" r="2.9"/>
<circle cx="1106.2" cy="1741.0" r="2.9"/>
<circle cx="1108.9" cy="1741.8" r="2.9"/>
<circle cx="1112.6" cy="1744.4" r="2.9"/>
<circle cx="1116.3" cy="1745.5" r="2.9"/>
<circle cx="1119.1" cy="1746.9" r="2.9"/>
<circle cx="1120.9" cy="1749.4" r="2.9"/>
<circle cx="1123.7" cy="1750.6" r="2.9"/>
<circle cx="1125.6" cy="1752.0" r="2.9"/>
<circle cx="1128.3" cy="1754.0" r="2.9"/>
<circle cx="1131.1" cy="1755.3" r="2.9"/>
<circle cx="1134.8" cy="1757.9" r="2.9"/>
<circle cx="1133.9" cy="1761.2" r="2.9"/>
<circle cx="1138.5" cy="1759.1" r="2.9"/>
<circle cx="1153.0" cy="1773.9" r="2.9"/>
<circle cx="1155.8" cy="1777.3" r="2.9"/>
<circle cx="1158.0" cy="1779.0" r="2.9"/>
<circle cx="1155.8" cy="1782.4" r="2.9"/>
<circle cx="1164.7" cy="1783.5" r="2.9"/>
<circle cx="1172.4" cy="1791.7" r="2.9"/>
<circle cx="1186.3" cy="1808.5" r="2.9"/>
<circle cx="1189.0" cy="1811.1" r="2.9"/>
<circle cx="1190.9" cy="1814.5" r="2.9"/>
<circle cx="1185.3" cy="1815.8" r="2.9"/>
<circle cx="1203.1" cy="1829.1" r="2.9"/>
<circle cx="1213.1" cy="1844.5" r="2.9"/>
<circle cx="1217.7" cy="1849.1" r="2.9"/>
<circle cx="1216.4" cy="1855.8" r="2.9"/>
<circle cx="1215.8" cy="1860.1" r="2.9"/>
<circle cx="1225.1" cy="1866.8" r="2.9"/>
<circle cx="1225.1" cy="1871.9" r="2.9"/>
<circle cx="1232.5" cy="1873.6" r="2.9"/>
<circle cx="1236.7" cy="1881.7" r="2.9"/>
<circle cx="1237.1" cy="1887.1" r="2.9"/>
<circle cx="1244.8" cy="1900.9" r="2.9"/>
<circle cx="1052.7" cy="1730.8" r="2.9"/>
<circle cx="1056.3" cy="1729.5" r="2.9"/>
<circle cx="1060.0" cy="1728.7" r="2.9"/>
<circle cx="1063.7" cy="1727.8" r="2.9"/>
<circle cx="1067.4" cy="1730.8" r="2.9"/>
<circle cx="1068.4" cy="1734.2" r="2.9"/>
<circle cx="1073.0" cy="1737.6" r="2.9"/>
<circle cx="1076.7" cy="1734.2" r="2.9"/>
<circle cx="1078.5" cy="1731.6" r="2.9"/>
<circle cx="1082.2" cy="1730.8" r="2.9"/>
<circle cx="1085.0" cy="1734.2" r="2.9"/>
<circle cx="1087.8" cy="1735.0" r="2.9"/>
<circle cx="1091.5" cy="1737.6" r="2.9"/>
<circle cx="1095.1" cy="1738.4" r="2.9"/>
<circle cx="1098.8" cy="1737.6" r="2.9"/>
<circle cx="1101.6" cy="1740.9" r="2.9"/>
<circle cx="1106.2" cy="1741.8" r="2.9"/>
<circle cx="1109.9" cy="1744.3" r="2.9"/>
<circle cx="1113.6" cy="1744.3" r="2.9"/>
<circle cx="1127.5" cy="1751.9" r="2.9"/>
<circle cx="1131.2" cy="1755.3" r="2.9"/>
<circle cx="1135.8" cy="1757.8" r="2.9"/>
<circle cx="1137.6" cy="1761.2" r="2.9"/>
<circle cx="1133.9" cy="1762.0" r="2.9"/>
<circle cx="1065.6" cy="1729.5" r="2.9"/>
<circle cx="1070.7" cy="1735.4" r="2.9"/>
<circle cx="1080.4" cy="1730.4" r="2.9"/>
<circle cx="1089.6" cy="1736.3" r="2.9"/>
<circle cx="1103.9" cy="1740.1" r="2.9"/>
<circle cx="1129.3" cy="1753.6" r="2.9"/>
</g>
<g fill="#0B5E0B">
<circle cx="1136.7" cy="1760.4" r="2.9"/>
<circle cx="1174.8" cy="1795.0" r="2.9"/>
<circle cx="1181.1" cy="1801.8" r="2.9"/>
<circle cx="1183.5" cy="1805.2" r="2.9"/>
<circle cx="1193.1" cy="1816.6" r="2.9"/>
<circle cx="1201.4" cy="1832.2" r="2.9"/>
<circle cx="1211.2" cy="1838.4" r="2.9"/>
<circle cx="1218.6" cy="1852.5" r="2.9"/>
<circle cx="1224.1" cy="1862.6" r="2.9"/>
<circle cx="1243.5" cy="1895.5" r="2.9"/>
<circle cx="1252.6" cy="1911.5" r="2.9"/>
<circle cx="1255.3" cy="1914.2" r="2.9"/>
<circle cx="1260.1" cy="1925.4" r="2.9"/>
<circle cx="1262.9" cy="1933.8" r="2.9"/>
<circle cx="1267.1" cy="1935.2" r="2.9"/>
<circle cx="1267.5" cy="1940.6" r="2.9"/>
<circle cx="1271.2" cy="1941.9" r="2.9"/>
<circle cx="1273.7" cy="1946.0" r="2.9"/>
<circle cx="1272.7" cy="1949.3" r="2.9"/>
<circle cx="1276.7" cy="1956.4" r="2.9"/>
<circle cx="1282.2" cy="1966.6" r="2.9"/>
<circle cx="1284.5" cy="1968.9" r="2.9"/>
<circle cx="1286.3" cy="1973.0" r="2.9"/>
<circle cx="1287.0" cy="1976.4" r="2.9"/>
<circle cx="1290.7" cy="1979.1" r="2.9"/>
<circle cx="1292.9" cy="1986.5" r="2.9"/>
<circle cx="1296.6" cy="1991.2" r="2.9"/>
<circle cx="1298.1" cy="1994.6" r="2.9"/>
<circle cx="1300.3" cy="1998.0" r="2.9"/>
<circle cx="1301.1" cy="1999.3" r="2.9"/>
<circle cx="1305.5" cy="2006.8" r="2.9"/>
<circle cx="1304.0" cy="2009.5" r="2.9"/>
<circle cx="1307.7" cy="2012.2" r="2.9"/>
<circle cx="1309.2" cy="2014.2" r="2.9"/>
<circle cx="1310.7" cy="2016.9" r="2.9"/>
<circle cx="1312.9" cy="2024.3" r="2.9"/>
<circle cx="1315.9" cy="2025.0" r="2.9"/>
<circle cx="1318.1" cy="2027.7" r="2.9"/>
<circle cx="1320.3" cy="2030.4" r="2.9"/>
<circle cx="1323.5" cy="2037.2" r="2.9"/>
<circle cx="1329.6" cy="2045.3" r="2.9"/>
<circle cx="1335.4" cy="2053.8" r="2.9"/>
<circle cx="1338.8" cy="2065.5" r="2.9"/>
<circle cx="1341.4" cy="2065.5" r="2.9"/>
<circle cx="1341.7" cy="2069.6" r="2.9"/>
<circle cx="1343.9" cy="2072.3" r="2.9"/>
<circle cx="1346.6" cy="2073.9" r="2.9"/>
<circle cx="1349.1" cy="2094.9" r="2.9"/>
<circle cx="1357.2" cy="2092.2" r="2.9"/>
<circle cx="1359.5" cy="2094.9" r="2.9"/>
<circle cx="1359.5" cy="2100.0" r="2.9"/>
<circle cx="1288.1" cy="1975.0" r="2.9"/>
<circle cx="1294.9" cy="1988.9" r="2.9"/>
<circle cx="1299.3" cy="1996.2" r="2.9"/>
<circle cx="1302.8" cy="2005.4" r="2.9"/>
<circle cx="1306.5" cy="2010.6" r="2.9"/>
<circle cx="1311.7" cy="2020.3" r="2.9"/>
<circle cx="1314.4" cy="2026.4" r="2.9"/>
</g>
<line x1="833.4" y1="1773.8" x2="837.4" y2="1773.8" stroke="#444" stroke-width="1.3"/>
<text x="824.0" y="1780.4" font-size="24.6" text-anchor="end" fill="#111">0.05</text>
<line x1="833.4" y1="1858.9" x2="837.4" y2="1858.9" stroke="#444" stroke-width="1.3"/>
<text x="824.0" y="1862.2" font-size="24.6" text-anchor="end" fill="#111">0.00</text>
<line x1="833.4" y1="1944.0" x2="837.4" y2="1944.0" stroke="#444" stroke-width="1.3"/>
<text x="824.0" y="1946.3" font-size="24.6" text-anchor="end" fill="#111">-0.05</text>
<line x1="833.4" y1="2029.1" x2="837.4" y2="2029.1" stroke="#444" stroke-width="1.3"/>
<text x="824.0" y="2033.1" font-size="24.6" text-anchor="end" fill="#111">-0.10</text>
<line x1="833.4" y1="2114.2" x2="837.4" y2="2114.2" stroke="#444" stroke-width="1.3"/>
<text x="824.0" y="2119.4" font-size="24.6" text-anchor="end" fill="#111">-0.15</text>
<line x1="838.9" y1="2117.0" x2="838.9" y2="2121.0" stroke="#444" stroke-width="1.3"/>
<text x="847.3" y="2145.4" font-size="24.7" text-anchor="middle" fill="#111">-0.05</text>
<line x1="1019.9" y1="2117.0" x2="1019.9" y2="2121.0" stroke="#444" stroke-width="1.3"/>
<text x="1023.2" y="2145.4" font-size="24.7" text-anchor="middle" fill="#111">0.00</text>
<line x1="1200.9" y1="2117.0" x2="1200.9" y2="2121.0" stroke="#444" stroke-width="1.3"/>
<text x="1202.5" y="2145.4" font-size="24.7" text-anchor="middle" fill="#111">0.05</text>
<line x1="1381.9" y1="2117.0" x2="1381.9" y2="2121.0" stroke="#444" stroke-width="1.3"/>
<text x="1385.7" y="2145.4" font-size="24.7" text-anchor="middle" fill="#111">0.10</text>
<text x="1111.0" y="2188.0" font-size="28" text-anchor="middle" fill="#111">DC1</text>
<text x="749.4" y="1910.0" font-size="28.6" text-anchor="middle" fill="#111" transform="rotate(-90 749.4 1910.0)">DC2</text>
<text x="838.8" y="2217.6" font-size="29" text-anchor="start" font-weight="bold" fill="#1a1a1a">Clusters</text>
<rect x="838.6" y="2232.2" width="47.6" height="47.5" fill="#EBEBEB"/>
<circle cx="862.4" cy="2255.8" r="6.3" fill="#D55E00"/>
<text x="892.6" y="2264.6" font-size="29.1" text-anchor="start" fill="#111">1- Normal (winner) Epiblast</text>
<rect x="838.6" y="2290.3" width="47.6" height="47.5" fill="#EBEBEB"/>
<circle cx="862.4" cy="2314.1" r="6.3" fill="#0000EE"/>
<text x="892.6" y="2322.4" font-size="29.1" text-anchor="start" fill="#111">3- Intermediate</text>
<rect x="838.6" y="2348.4" width="47.6" height="47.5" fill="#EBEBEB"/>
<circle cx="862.4" cy="2371.3" r="6.3" fill="#0B5E0B"/>
<text x="892.6" y="2379.0" font-size="29.1" text-anchor="start" fill="#111">4- Loser Epiblast</text>
<rect x="1678.4" y="1716.0" width="417.6" height="403.8" fill="#EBEBEB"/>
<line x1="1733.4" y1="1716.0" x2="1733.4" y2="2119.8" stroke="#F2F2F2" stroke-width="1.3"/>
<line x1="1808.1" y1="1716.0" x2="1808.1" y2="2119.8" stroke="#F2F2F2" stroke-width="1.3"/>
<line x1="1882.8" y1="1716.0" x2="1882.8" y2="2119.8" stroke="#F2F2F2" stroke-width="1.3"/>
<line x1="1957.5" y1="1716.0" x2="1957.5" y2="2119.8" stroke="#F2F2F2" stroke-width="1.3"/>
<line x1="2032.2" y1="1716.0" x2="2032.2" y2="2119.8" stroke="#F2F2F2" stroke-width="1.3"/>
<line x1="1678.4" y1="2052.2" x2="2096.0" y2="2052.2" stroke="#F2F2F2" stroke-width="1.3"/>
<line x1="1678.4" y1="1953.1" x2="2096.0" y2="1953.1" stroke="#F2F2F2" stroke-width="1.3"/>
<line x1="1678.4" y1="1853.9" x2="2096.0" y2="1853.9" stroke="#F2F2F2" stroke-width="1.3"/>
<line x1="1678.4" y1="1754.8" x2="2096.0" y2="1754.8" stroke="#F2F2F2" stroke-width="1.3"/>
<line x1="1696.0" y1="1716.0" x2="1696.0" y2="2119.8" stroke="#F7F7F7" stroke-width="2.0"/>
<line x1="1770.7" y1="1716.0" x2="1770.7" y2="2119.8" stroke="#F7F7F7" stroke-width="2.0"/>
<line x1="1845.4" y1="1716.0" x2="1845.4" y2="2119.8" stroke="#F7F7F7" stroke-width="2.0"/>
<line x1="1920.2" y1="1716.0" x2="1920.2" y2="2119.8" stroke="#F7F7F7" stroke-width="2.0"/>
<line x1="1994.9" y1="1716.0" x2="1994.9" y2="2119.8" stroke="#F7F7F7" stroke-width="2.0"/>
<line x1="2069.6" y1="1716.0" x2="2069.6" y2="2119.8" stroke="#F7F7F7" stroke-width="2.0"/>
<line x1="1678.4" y1="2101.8" x2="2096.0" y2="2101.8" stroke="#F7F7F7" stroke-width="2.0"/>
<line x1="1678.4" y1="2002.7" x2="2096.0" y2="2002.7" stroke="#F7F7F7" stroke-width="2.0"/>
<line x1="1678.4" y1="1903.5" x2="2096.0" y2="1903.5" stroke="#F7F7F7" stroke-width="2.0"/>
<line x1="1678.4" y1="1804.4" x2="2096.0" y2="1804.4" stroke="#F7F7F7" stroke-width="2.0"/>
<g fill="#000">
<circle cx="1704.0" cy="2081.6" r="1.9"/>
<circle cx="1707.3" cy="2083.2" r="1.9"/>
<circle cx="1709.0" cy="2089.4" r="1.9"/>
<circle cx="1711.8" cy="2082.1" r="1.9"/>
<circle cx="1704.6" cy="2070.6" r="1.9"/>
<circle cx="1711.8" cy="2071.5" r="1.9"/>
<circle cx="1712.4" cy="2076.5" r="1.9"/>
<circle cx="1714.6" cy="2075.4" r="1.9"/>
<circle cx="1716.8" cy="2071.3" r="1.9"/>
<circle cx="1719.6" cy="2074.9" r="1.9"/>
<circle cx="1712.4" cy="2061.2" r="1.9"/>
<circle cx="1715.9" cy="2064.3" r="1.9"/>
<circle cx="1724.6" cy="2064.8" r="1.9"/>
<circle cx="1724.1" cy="2067.6" r="1.9"/>
<circle cx="1720.7" cy="2050.9" r="1.9"/>
<circle cx="1722.4" cy="2053.1" r="1.9"/>
<circle cx="1728.5" cy="2054.6" r="1.9"/>
<circle cx="1730.8" cy="2058.1" r="1.9"/>
<circle cx="1735.0" cy="2045.0" r="1.9"/>
<circle cx="1735.0" cy="2047.5" r="1.9"/>
<circle cx="1736.1" cy="2053.1" r="1.9"/>
<circle cx="1750.0" cy="2040.6" r="1.9"/>
<circle cx="1757.0" cy="2046.2" r="1.9"/>
<circle cx="1758.7" cy="2029.3" r="1.9"/>
<circle cx="1758.1" cy="2031.9" r="1.9"/>
<circle cx="1760.4" cy="2023.0" r="1.9"/>
<circle cx="1764.3" cy="2036.9" r="1.9"/>
<circle cx="1772.1" cy="2027.4" r="1.9"/>
<circle cx="1773.2" cy="2020.2" r="1.9"/>
<circle cx="1781.3" cy="2028.0" r="1.9"/>
<circle cx="1776.8" cy="2007.7" r="1.9"/>
<circle cx="1779.3" cy="2001.4" r="1.9"/>
<circle cx="1793.3" cy="1999.0" r="1.9"/>
<circle cx="1795.5" cy="2000.6" r="1.9"/>
<circle cx="1795.0" cy="2002.9" r="1.9"/>
<circle cx="1798.9" cy="1997.3" r="1.9"/>
<circle cx="1805.6" cy="2003.4" r="1.9"/>
<circle cx="1807.2" cy="1999.5" r="1.9"/>
<circle cx="1806.7" cy="1995.6" r="1.9"/>
<circle cx="1811.9" cy="1991.2" r="1.9"/>
<circle cx="1822.9" cy="1984.7" r="1.9"/>
<circle cx="1824.0" cy="1981.1" r="1.9"/>
<circle cx="1826.8" cy="1981.1" r="1.9"/>
<circle cx="1697.8" cy="2102.7" r="1.9"/>
<circle cx="1697.3" cy="2101.4" r="1.9"/>
<circle cx="1697.8" cy="2101.3" r="1.9"/>
<circle cx="1699.1" cy="2099.5" r="1.9"/>
<circle cx="1698.2" cy="2098.9" r="1.9"/>
<circle cx="1698.7" cy="2098.5" r="1.9"/>
<circle cx="1699.6" cy="2097.5" r="1.9"/>
<circle cx="1699.0" cy="2096.9" r="1.9"/>
<circle cx="1700.0" cy="2096.4" r="1.9"/>
<circle cx="1701.2" cy="2095.8" r="1.9"/>
<circle cx="1700.9" cy="2095.0" r="1.9"/>
<circle cx="1701.5" cy="2093.5" r="1.9"/>
<circle cx="1702.2" cy="2093.7" r="1.9"/>
<circle cx="1702.5" cy="2093.0" r="1.9"/>
<circle cx="1702.1" cy="2091.8" r="1.9"/>
<circle cx="1702.0" cy="2091.3" r="1.9"/>
<circle cx="1702.3" cy="2089.8" r="1.9"/>
<circle cx="1702.9" cy="2089.2" r="1.9"/>
<circle cx="1703.5" cy="2088.4" r="1.9"/>
<circle cx="1703.3" cy="2087.7" r="1.9"/>
<circle cx="1703.8" cy="2087.3" r="1.9"/>
<circle cx="1704.1" cy="2087.2" r="1.9"/>
<circle cx="1705.3" cy="2085.5" r="1.9"/>
<circle cx="1705.1" cy="2085.1" r="1.9"/>
<circle cx="1705.7" cy="2084.0" r="1.9"/>
<circle cx="1706.8" cy="2084.5" r="1.9"/>
<circle cx="1819.3" cy="1978.3" r="1.9"/>
<circle cx="1824.4" cy="1971.6" r="1.9"/>
<circle cx="1825.2" cy="1976.6" r="1.9"/>
<circle cx="1828.6" cy="1974.1" r="1.9"/>
<circle cx="1831.1" cy="1967.4" r="1.9"/>
<circle cx="1838.6" cy="1976.1" r="1.9"/>
<circle cx="1841.1" cy="1961.6" r="1.9"/>
<circle cx="1842.3" cy="1965.7" r="1.9"/>
<circle cx="1847.0" cy="1955.7" r="1.9"/>
<circle cx="1847.8" cy="1961.1" r="1.9"/>
<circle cx="1849.0" cy="1966.6" r="1.9"/>
<circle cx="1850.0" cy="1945.7" r="1.9"/>
<circle cx="1850.3" cy="1949.0" r="1.9"/>
<circle cx="1853.7" cy="1955.7" r="1.9"/>
<circle cx="1854.5" cy="1947.3" r="1.9"/>
<circle cx="1857.0" cy="1954.0" r="1.9"/>
<circle cx="1856.7" cy="1930.9" r="1.9"/>
<circle cx="1858.7" cy="1945.7" r="1.9"/>
<circle cx="1862.0" cy="1944.0" r="1.9"/>
<circle cx="1863.2" cy="1948.2" r="1.9"/>
<circle cx="1865.4" cy="1939.0" r="1.9"/>
<circle cx="1867.1" cy="1943.1" r="1.9"/>
<circle cx="1868.7" cy="1939.8" r="1.9"/>
<circle cx="1871.2" cy="1933.9" r="1.9"/>
<circle cx="1867.1" cy="1919.2" r="1.9"/>
<circle cx="1872.9" cy="1929.8" r="1.9"/>
<circle cx="1875.4" cy="1933.1" r="1.9"/>
<circle cx="1876.3" cy="1925.6" r="1.9"/>
<circle cx="1878.8" cy="1928.1" r="1.9"/>
<circle cx="1877.9" cy="1922.2" r="1.9"/>
<circle cx="1876.3" cy="1904.6" r="1.9"/>
<circle cx="1879.6" cy="1902.1" r="1.9"/>
<circle cx="1883.0" cy="1918.0" r="1.9"/>
<circle cx="1884.6" cy="1919.2" r="1.9"/>
<circle cx="1887.1" cy="1916.4" r="1.9"/>
<circle cx="1888.8" cy="1918.0" r="1.9"/>
<circle cx="1890.5" cy="1912.2" r="1.9"/>
<circle cx="1893.0" cy="1913.8" r="1.9"/>
<circle cx="1893.8" cy="1908.8" r="1.9"/>
<circle cx="1895.5" cy="1906.3" r="1.9"/>
<circle cx="1890.2" cy="1897.9" r="1.9"/>
<circle cx="1891.3" cy="1901.3" r="1.9"/>
<circle cx="1897.2" cy="1902.1" r="1.9"/>
<circle cx="1898.9" cy="1903.8" r="1.9"/>
<circle cx="1900.5" cy="1899.6" r="1.9"/>
<circle cx="1903.1" cy="1900.5" r="1.9"/>
<circle cx="1903.9" cy="1897.1" r="1.9"/>
<circle cx="1906.4" cy="1897.9" r="1.9"/>
<circle cx="1907.6" cy="1894.6" r="1.9"/>
<circle cx="1905.6" cy="1887.9" r="1.9"/>
<circle cx="1908.9" cy="1891.2" r="1.9"/>
<circle cx="1918.1" cy="1886.2" r="1.9"/>
<circle cx="1920.3" cy="1887.1" r="1.9"/>
<circle cx="1919.0" cy="1882.9" r="1.9"/>
<circle cx="1919.3" cy="1873.7" r="1.9"/>
<circle cx="1924.8" cy="1877.9" r="1.9"/>
<circle cx="1931.5" cy="1876.2" r="1.9"/>
<circle cx="1934.9" cy="1873.7" r="1.9"/>
<circle cx="1936.5" cy="1863.6" r="1.9"/>
<circle cx="1938.2" cy="1866.1" r="1.9"/>
<circle cx="1940.7" cy="1868.6" r="1.9"/>
<circle cx="1942.4" cy="1867.0" r="1.9"/>
<circle cx="1943.2" cy="1862.8" r="1.9"/>
<circle cx="1944.9" cy="1857.8" r="1.9"/>
<circle cx="1950.8" cy="1858.6" r="1.9"/>
<circle cx="1951.6" cy="1856.1" r="1.9"/>
<circle cx="1955.8" cy="1851.9" r="1.9"/>
<circle cx="1957.5" cy="1850.2" r="1.9"/>
<circle cx="1959.1" cy="1845.2" r="1.9"/>
<circle cx="1961.7" cy="1848.6" r="1.9"/>
<circle cx="1962.5" cy="1842.7" r="1.9"/>
<circle cx="1964.2" cy="1844.4" r="1.9"/>
<circle cx="1965.8" cy="1841.9" r="1.9"/>
<circle cx="1968.3" cy="1840.2" r="1.9"/>
<circle cx="1818.8" cy="1945.7" r="1.9"/>
<circle cx="1909.0" cy="1893.7" r="1.9"/>
<circle cx="1894.6" cy="1903.9" r="1.9"/>
<circle cx="1908.7" cy="1894.6" r="1.9"/>
<circle cx="1906.8" cy="1897.0" r="1.9"/>
<circle cx="1902.8" cy="1897.4" r="1.9"/>
<circle cx="1887.7" cy="1913.0" r="1.9"/>
<circle cx="1887.5" cy="1912.1" r="1.9"/>
<circle cx="1905.8" cy="1896.0" r="1.9"/>
<circle cx="1898.7" cy="1904.6" r="1.9"/>
<circle cx="1906.6" cy="1896.1" r="1.9"/>
<circle cx="1864.2" cy="1939.7" r="1.9"/>
<circle cx="1853.8" cy="1951.4" r="1.9"/>
<circle cx="1855.4" cy="1951.4" r="1.9"/>
<circle cx="1866.4" cy="1939.0" r="1.9"/>
<circle cx="1868.2" cy="1937.4" r="1.9"/>
<circle cx="1866.2" cy="1937.9" r="1.9"/>
<circle cx="1873.6" cy="1932.7" r="1.9"/>
<circle cx="1874.9" cy="1932.6" r="1.9"/>
<circle cx="1868.8" cy="1937.3" r="1.9"/>
<circle cx="1871.0" cy="1935.0" r="1.9"/>
<circle cx="1953.2" cy="1854.8" r="1.9"/>
<circle cx="1965.9" cy="1842.7" r="1.9"/>
<circle cx="1955.8" cy="1853.1" r="1.9"/>
<circle cx="1939.6" cy="1863.1" r="1.9"/>
<circle cx="1938.0" cy="1863.6" r="1.9"/>
<circle cx="1958.8" cy="1850.4" r="1.9"/>
<circle cx="1942.2" cy="1863.4" r="1.9"/>
<circle cx="1942.4" cy="1864.7" r="1.9"/>
<circle cx="2076.6" cy="1733.8" r="1.9"/>
<circle cx="2075.0" cy="1737.9" r="1.9"/>
<circle cx="2069.0" cy="1736.2" r="1.9"/>
<circle cx="2063.0" cy="1748.3" r="1.9"/>
<circle cx="2060.2" cy="1752.1" r="1.9"/>
<circle cx="2058.0" cy="1753.7" r="1.9"/>
<circle cx="2053.1" cy="1753.7" r="1.9"/>
<circle cx="2047.7" cy="1759.2" r="1.9"/>
<circle cx="2042.2" cy="1768.5" r="1.9"/>
<circle cx="2039.5" cy="1766.9" r="1.9"/>
<circle cx="2038.4" cy="1771.2" r="1.9"/>
<circle cx="2032.3" cy="1769.6" r="1.9"/>
<circle cx="2035.1" cy="1774.0" r="1.9"/>
<circle cx="2032.9" cy="1775.6" r="1.9"/>
<circle cx="2030.2" cy="1777.8" r="1.9"/>
<circle cx="2026.9" cy="1779.5" r="1.9"/>
<circle cx="2025.8" cy="1782.7" r="1.9"/>
<circle cx="2022.5" cy="1782.7" r="1.9"/>
<circle cx="2020.9" cy="1785.5" r="1.9"/>
<circle cx="2022.0" cy="1789.8" r="1.9"/>
<circle cx="2016.5" cy="1791.5" r="1.9"/>
<circle cx="2015.9" cy="1794.2" r="1.9"/>
<circle cx="2012.7" cy="1793.1" r="1.9"/>
<circle cx="2010.5" cy="1797.5" r="1.9"/>
<circle cx="2012.7" cy="1801.3" r="1.9"/>
<circle cx="2008.3" cy="1799.7" r="1.9"/>
<circle cx="2003.9" cy="1800.8" r="1.9"/>
<circle cx="2001.7" cy="1805.2" r="1.9"/>
<circle cx="1999.5" cy="1807.3" r="1.9"/>
<circle cx="1996.8" cy="1811.2" r="1.9"/>
<circle cx="1996.2" cy="1812.8" r="1.9"/>
<circle cx="1992.4" cy="1817.7" r="1.9"/>
<circle cx="1987.5" cy="1818.3" r="1.9"/>
<circle cx="1990.8" cy="1819.9" r="1.9"/>
<circle cx="1985.3" cy="1825.4" r="1.9"/>
<circle cx="1978.7" cy="1827.6" r="1.9"/>
<circle cx="1979.3" cy="1830.3" r="1.9"/>
<circle cx="1980.4" cy="1833.6" r="1.9"/>
<circle cx="1973.8" cy="1827.0" r="1.9"/>
<circle cx="1971.1" cy="1831.6" r="1.9"/>
<circle cx="1973.8" cy="1836.7" r="1.9"/>
<circle cx="1960.7" cy="1834.5" r="1.9"/>
<circle cx="1965.6" cy="1838.0" r="1.9"/>
<circle cx="2017.9" cy="1790.9" r="1.9"/>
<circle cx="2001.0" cy="1807.6" r="1.9"/>
<circle cx="2033.4" cy="1774.6" r="1.9"/>
<circle cx="2040.0" cy="1769.6" r="1.9"/>
<circle cx="2020.0" cy="1788.8" r="1.9"/>
<circle cx="2042.3" cy="1770.1" r="1.9"/>
<circle cx="2008.2" cy="1800.2" r="1.9"/>
<circle cx="2031.9" cy="1779.5" r="1.9"/>
<circle cx="2010.9" cy="1799.2" r="1.9"/>
<circle cx="2042.6" cy="1770.1" r="1.9"/>
<circle cx="2034.7" cy="1775.7" r="1.9"/>
<circle cx="2019.8" cy="1788.4" r="1.9"/>
<circle cx="1997.4" cy="1810.8" r="1.9"/>
<circle cx="2029.6" cy="1782.0" r="1.9"/>
<circle cx="2040.8" cy="1772.7" r="1.9"/>
<circle cx="2012.5" cy="1795.8" r="1.9"/>
<circle cx="2004.8" cy="1804.5" r="1.9"/>
<circle cx="2038.7" cy="1772.9" r="1.9"/>
<circle cx="2027.4" cy="1782.6" r="1.9"/>
<circle cx="2028.0" cy="1784.4" r="1.9"/>
<circle cx="2030.8" cy="1778.6" r="1.9"/>
<circle cx="2032.1" cy="1778.8" r="1.9"/>
<circle cx="2040.6" cy="1769.5" r="1.9"/>
<circle cx="2040.5" cy="1769.9" r="1.9"/>
<circle cx="2001.5" cy="1808.4" r="1.9"/>
<circle cx="2032.3" cy="1778.1" r="1.9"/>
</g>
<line x1="1674.9" y1="2101.8" x2="1678.4" y2="2101.8" stroke="#333" stroke-width="1.3"/>
<text x="1664.9" y="2108.0" font-size="28.7" text-anchor="end" fill="#111">0.0</text>
<line x1="1674.9" y1="2002.7" x2="1678.4" y2="2002.7" stroke="#333" stroke-width="1.3"/>
<text x="1664.9" y="2013.4" font-size="28.7" text-anchor="end" fill="#111">0.5</text>
<line x1="1674.9" y1="1903.5" x2="1678.4" y2="1903.5" stroke="#333" stroke-width="1.3"/>
<text x="1664.9" y="1910.4" font-size="28.7" text-anchor="end" fill="#111">1.0</text>
<line x1="1674.9" y1="1804.4" x2="1678.4" y2="1804.4" stroke="#333" stroke-width="1.3"/>
<text x="1664.9" y="1812.3" font-size="28.7" text-anchor="end" fill="#111">1.5</text>
<line x1="1696.0" y1="2119.8" x2="1696.0" y2="2123.3" stroke="#333" stroke-width="1.3"/>
<text x="1695.5" y="2145.6" font-size="25.5" text-anchor="middle" fill="#111">0</text>
<line x1="1770.7" y1="2119.8" x2="1770.7" y2="2123.3" stroke="#333" stroke-width="1.3"/>
<text x="1770.2" y="2145.6" font-size="25.5" text-anchor="middle" fill="#111">1</text>
<line x1="1845.4" y1="2119.8" x2="1845.4" y2="2123.3" stroke="#333" stroke-width="1.3"/>
<text x="1844.9" y="2145.6" font-size="25.5" text-anchor="middle" fill="#111">2</text>
<line x1="1920.2" y1="2119.8" x2="1920.2" y2="2123.3" stroke="#333" stroke-width="1.3"/>
<text x="1919.7" y="2145.6" font-size="25.5" text-anchor="middle" fill="#111">3</text>
<line x1="1994.9" y1="2119.8" x2="1994.9" y2="2123.3" stroke="#333" stroke-width="1.3"/>
<text x="1994.4" y="2145.6" font-size="25.5" text-anchor="middle" fill="#111">4</text>
<line x1="2069.6" y1="2119.8" x2="2069.6" y2="2123.3" stroke="#333" stroke-width="1.3"/>
<text x="2069.1" y="2149.6" font-size="25.5" text-anchor="middle" fill="#111">5</text>
<text x="1695.4" y="1701.5" font-size="29.2" text-anchor="start" fill="#111">Spearman correlation = 0.997</text>
<text x="1889.3" y="2189.0" font-size="29.5" text-anchor="middle" fill="#111">pseudo–time</text>
<text x="1889.3" y="2224.2" font-size="29" text-anchor="middle" fill="#111">(from all epiblast cells)</text>
<text x="1559.9" y="1936.8" font-size="29.5" text-anchor="middle" fill="#111" transform="rotate(-90 1559.9 1936.8)">pseudo–time</text>
<text x="1595.8" y="1937.8" font-size="29" text-anchor="middle" fill="#111" transform="rotate(-90 1595.8 1937.8)">(from only CI-treated epiblast cells)</text>
</svg>
</body>
</html>
